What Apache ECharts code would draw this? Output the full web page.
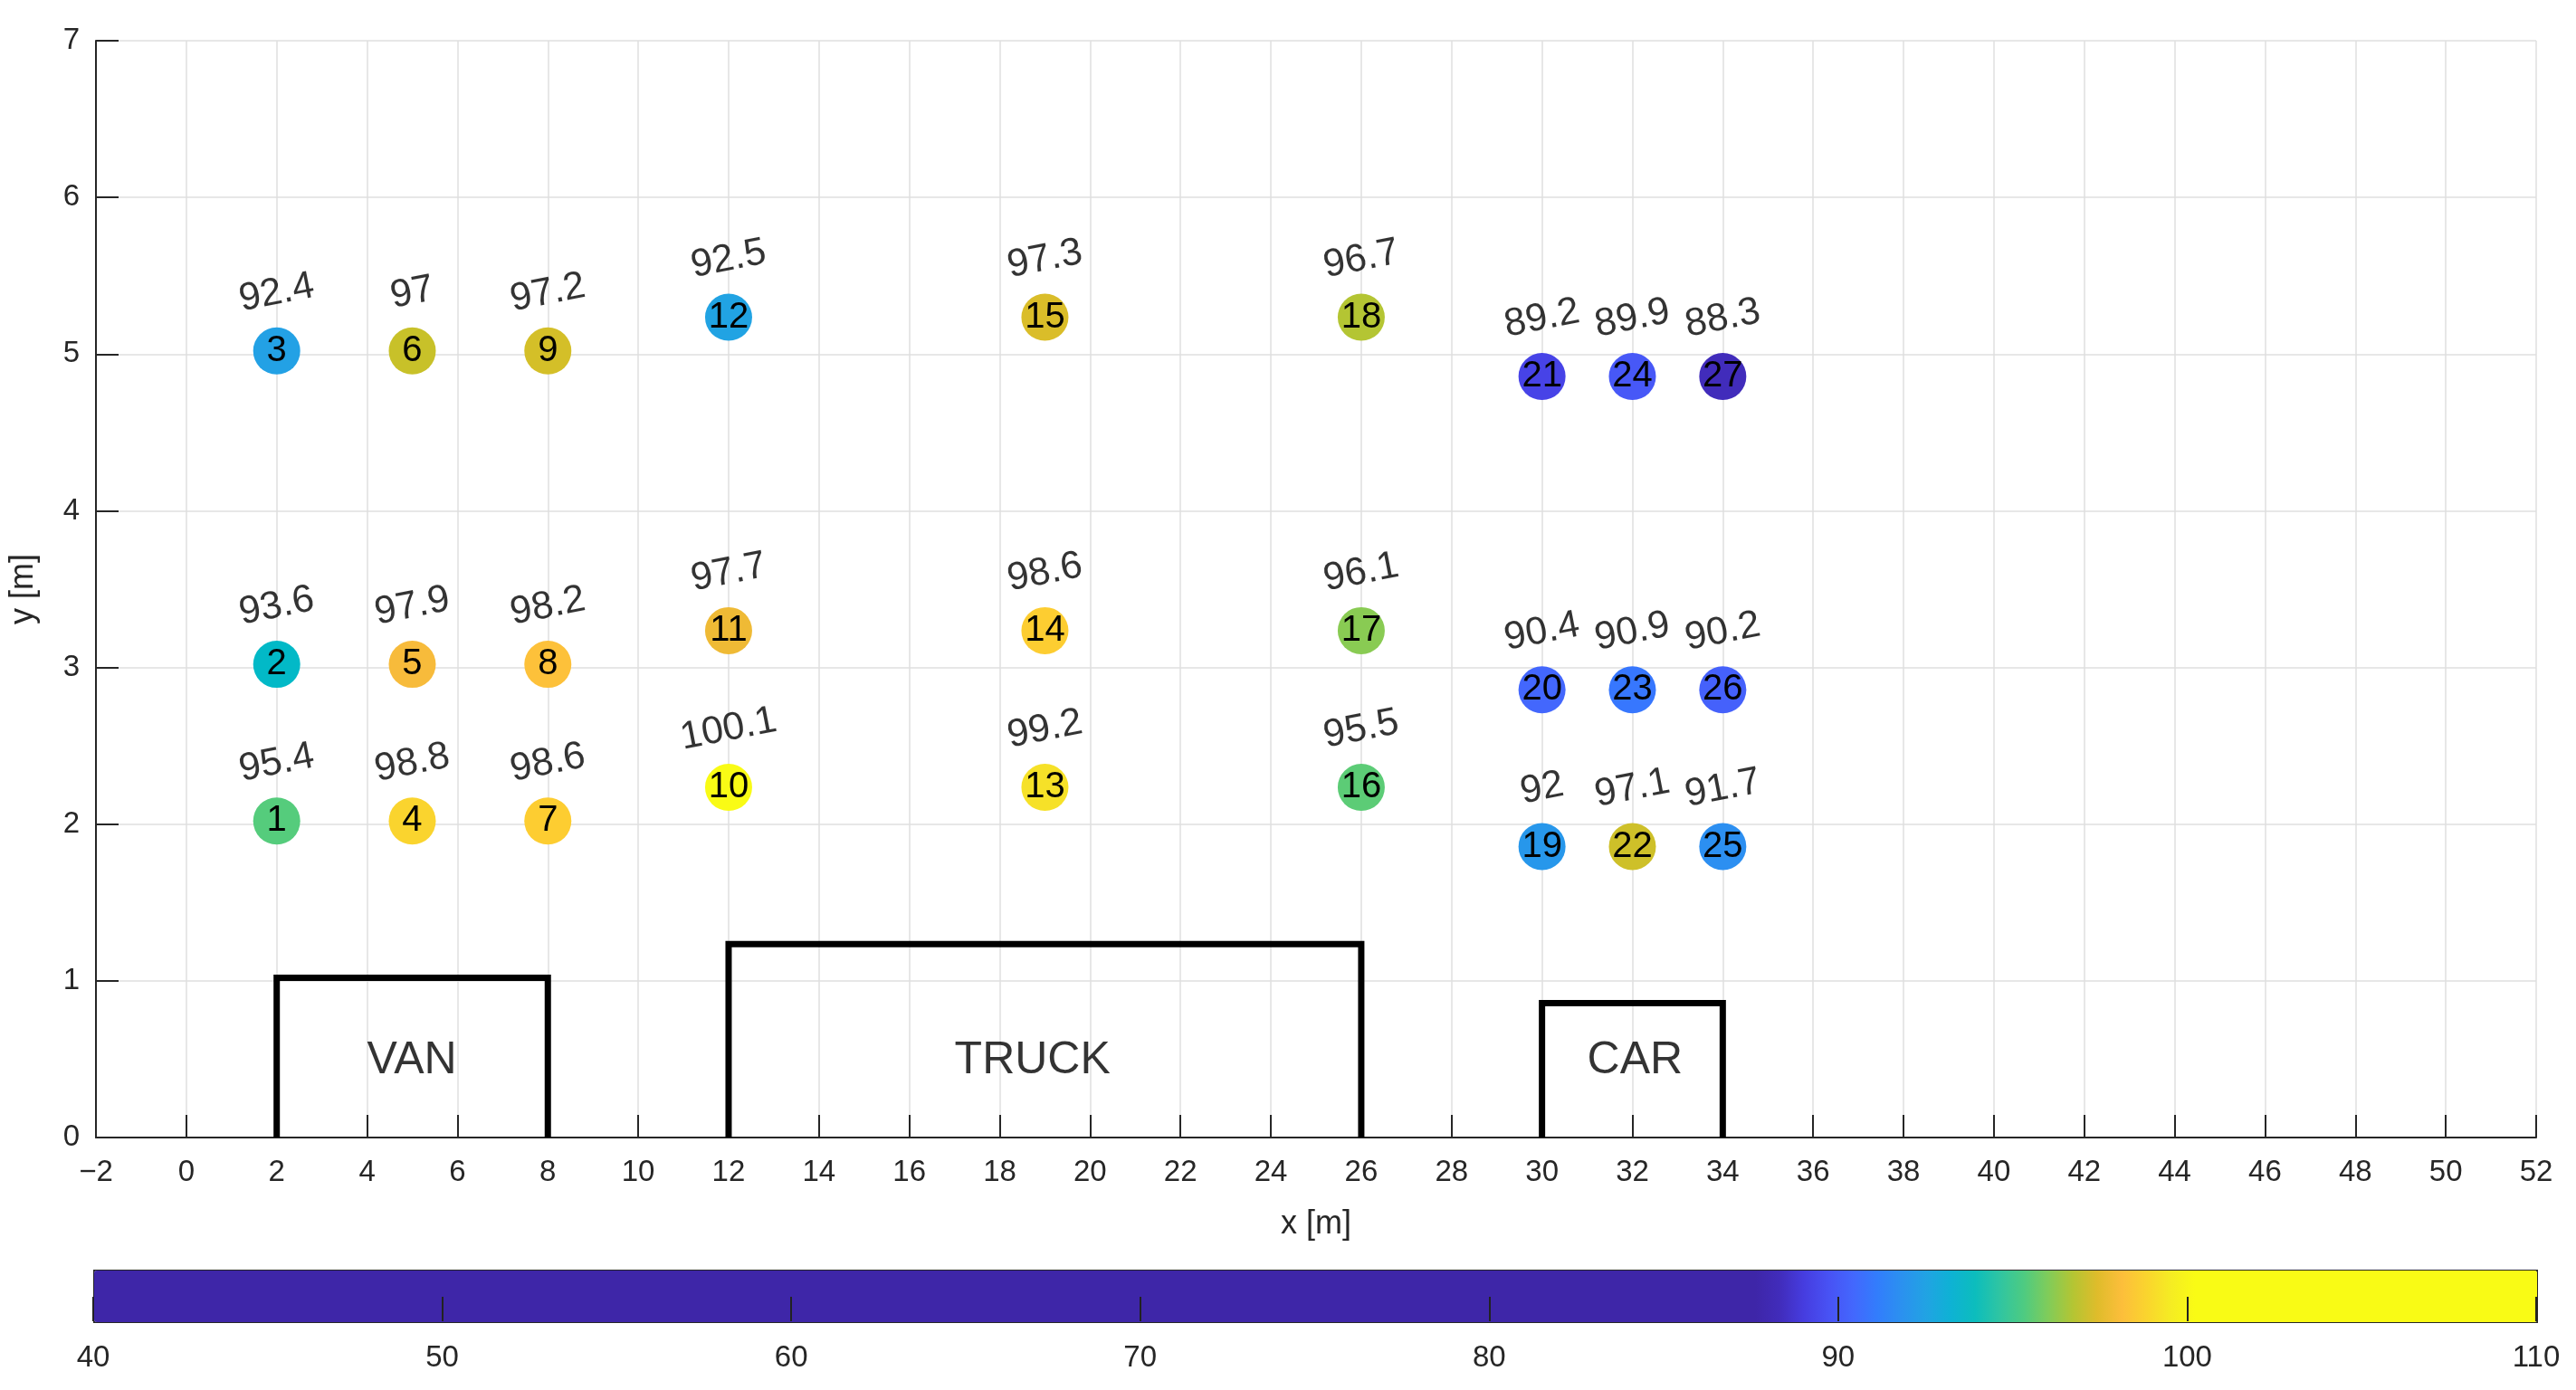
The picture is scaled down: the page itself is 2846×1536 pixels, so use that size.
<!DOCTYPE html>
<html><head><meta charset="utf-8">
<script src="https://cdn.jsdelivr.net/npm/echarts@6/dist/echarts.min.js"></script>
<style>html,body{margin:0;padding:0;background:#fff}#c{width:2846px;height:1536px}</style>
</head><body><div id="c"></div>
<script>
// ---- data ----
const pointIds = [1,2,3,4,5,6,7,8,9,10,11,12,13,14,15,16,17,18,19,20,21,22,23,24,25,26,27];
const pointX = [2,2,2,5,5,5,8,8,8,12,12,12,19,19,19,26,26,26,30,30,30,32,32,32,34,34,34];
const pointY = [2.02,3.02,5.02,2.02,3.02,5.02,2.02,3.02,5.02,
                2.235,3.235,5.235,2.235,3.235,5.235,2.235,3.235,5.235,
                1.857,2.857,4.857,1.857,2.857,4.857,1.857,2.857,4.857];
const pointValues = [95.4,93.6,92.4,98.8,97.9,97,98.6,98.2,97.2,
                     100.1,97.7,92.5,99.2,98.6,97.3,95.5,96.1,96.7,
                     92,90.4,89.2,97.1,90.9,89.9,91.7,90.2,88.3];
const vehicleNames = ['VAN','TRUCK','CAR'];
const vehicleStartX = [2,12,30];
const vehicleEndX = [8,26,34];
const vehicleHeight = [1.02,1.235,0.857];
const vehicleLabelX = [4,17,31];
const vehicleLabelY = [0.49,0.49,0.49];
const colorbarMin = 40, colorbarMax = 110, colorbarStep = 10;
const xMin = -2, xMax = 52, xStep = 2;
const yMin = 0, yMax = 7, yStep = 1;

// ---- colormap (parula stretched over 88..100, clamped) ----
const parula = [[0.2422,0.1504,0.6603],[0.2504,0.1650,0.7076],[0.2578,0.1818,0.7511],[0.2647,0.1978,0.7952],[0.2706,0.2147,0.8364],[0.2751,0.2342,0.8710],[0.2783,0.2559,0.8991],[0.2803,0.2782,0.9221],[0.2813,0.3006,0.9414],[0.2810,0.3228,0.9579],[0.2795,0.3447,0.9717],[0.2760,0.3667,0.9829],[0.2699,0.3892,0.9906],[0.2602,0.4123,0.9952],[0.2440,0.4358,0.9988],[0.2206,0.4603,0.9973],[0.1963,0.4847,0.9892],[0.1834,0.5074,0.9798],[0.1786,0.5289,0.9682],[0.1764,0.5499,0.9520],[0.1687,0.5703,0.9359],[0.1540,0.5902,0.9218],[0.1460,0.6091,0.9079],[0.1380,0.6276,0.8973],[0.1248,0.6459,0.8883],[0.1113,0.6635,0.8763],[0.0952,0.6798,0.8598],[0.0689,0.6948,0.8394],[0.0297,0.7082,0.8163],[0.0036,0.7203,0.7917],[0.0067,0.7312,0.7660],[0.0433,0.7411,0.7394],[0.0964,0.7500,0.7120],[0.1408,0.7584,0.6842],[0.1717,0.7670,0.6554],[0.1938,0.7758,0.6251],[0.2161,0.7843,0.5923],[0.2470,0.7918,0.5567],[0.2906,0.7973,0.5188],[0.3406,0.8008,0.4789],[0.3909,0.8029,0.4354],[0.4456,0.8024,0.3909],[0.5044,0.7993,0.3480],[0.5616,0.7942,0.3045],[0.6174,0.7876,0.2612],[0.6720,0.7793,0.2227],[0.7242,0.7698,0.1910],[0.7738,0.7598,0.1646],[0.8203,0.7498,0.1535],[0.8634,0.7406,0.1596],[0.9035,0.7330,0.1774],[0.9393,0.7288,0.2100],[0.9728,0.7298,0.2394],[0.9956,0.7434,0.2371],[0.9970,0.7659,0.2199],[0.9952,0.7893,0.2028],[0.9892,0.8136,0.1885],[0.9808,0.8386,0.1751],[0.9714,0.8646,0.1644],[0.9631,0.8905,0.1535],[0.9599,0.9167,0.1415],[0.9626,0.9423,0.1261],[0.9685,0.9661,0.1081],[0.9769,0.9839,0.0805]];
const cmapLow = 88, cmapHigh = 100;
function cmap(v){
  let t = (v - cmapLow) / (cmapHigh - cmapLow);
  t = Math.max(0, Math.min(1, t));
  const f = t * (parula.length - 1);
  const i = Math.min(parula.length - 2, Math.floor(f));
  const r = f - i;
  const c = [0,1,2].map(k => Math.round(255 * (parula[i][k] * (1 - r) + parula[i+1][k] * r)));
  return 'rgb(' + c.join(',') + ')';
}
const vmColors = [];
for (let v = colorbarMin; v <= colorbarMax + 1e-9; v += 0.25) vmColors.push(cmap(v));

// ---- layout ----
const W = 2846, H = 1536;
const plotL = 103, plotR = 2802, plotT = 45, plotB = 1257;
const cbT = 1403, cbH = 57;
const FONT = "'Liberation Sans', Arial, Helvetica, sans-serif";
const TXT = '#262626';
const labelAngle = 11, labelLift = 64;
const rad = labelAngle * Math.PI / 180;
const labelOffset = [labelLift * Math.sin(rad), -labelLift * Math.cos(rad)];

const pointData = pointIds.map((id, i) => [pointX[i], pointY[i], pointValues[i], id]);

const vehicleSeries = vehicleNames.map((name, i) => ({
  type: 'line', xAxisIndex: 0, yAxisIndex: 0, symbol: 'none', silent: true, z: 3,
  lineStyle: { color: '#000', width: 7, join: 'miter' },
  data: [[vehicleStartX[i], 0], [vehicleStartX[i], vehicleHeight[i]],
         [vehicleEndX[i], vehicleHeight[i]], [vehicleEndX[i], 0]]
}));

const fmtMinus = v => String(v).replace('-', '\u2212');

const option = {
  animation: false,
  backgroundColor: '#fff',
  textStyle: { fontFamily: FONT },
  grid: [
    { left: plotL, right: W - plotR, top: plotT, bottom: H - plotB, containLabel: false },
    { left: plotL, right: W - plotR, top: cbT, height: cbH, containLabel: false }
  ],
  xAxis: [
    { gridIndex: 0, type: 'value', min: xMin, max: xMax, interval: xStep,
      name: 'x [m]', nameLocation: 'middle', nameGap: 78,
      nameTextStyle: { fontSize: 36, color: TXT, fontFamily: FONT },
      axisLine: { show: true, onZero: false, lineStyle: { color: TXT, width: 2 } },
      axisTick: { show: true, inside: true, length: 25, lineStyle: { color: TXT, width: 2 } },
      axisLabel: { fontSize: 33, color: TXT, margin: 22, fontFamily: FONT, formatter: fmtMinus },
      splitLine: { show: true, lineStyle: { color: '#dfdfdf', width: 1.5 } } },
    { gridIndex: 1, type: 'value', min: colorbarMin, max: colorbarMax, interval: colorbarStep, z: 10,
      axisLine: { show: false },
      axisTick: { show: true, inside: true, length: 27, lineStyle: { color: '#222', width: 2 } },
      axisLabel: { fontSize: 33, color: TXT, margin: 24, fontFamily: FONT },
      splitLine: { show: false } }
  ],
  yAxis: [
    { gridIndex: 0, type: 'value', min: yMin, max: yMax, interval: yStep,
      name: 'y [m]', nameLocation: 'middle', nameGap: 62, nameRotate: 90,
      nameTextStyle: { fontSize: 36, color: TXT, fontFamily: FONT },
      axisLine: { show: true, onZero: false, lineStyle: { color: TXT, width: 2 } },
      axisTick: { show: true, inside: true, length: 25, lineStyle: { color: TXT, width: 2 } },
      axisLabel: { fontSize: 33, color: TXT, margin: 18, fontFamily: FONT },
      splitLine: { show: true, lineStyle: { color: '#dfdfdf', width: 1.5 } } },
    { gridIndex: 1, type: 'value', min: 0, max: 1, show: false }
  ],
  visualMap: {
    type: 'continuous', seriesIndex: 0, dimension: 2,
    min: colorbarMin, max: colorbarMax, calculable: false, orient: 'horizontal',
    left: plotL, top: cbT, itemWidth: cbH, itemHeight: plotR - plotL,
    padding: 0, borderColor: '#262626', borderWidth: 2, text: null,
    inRange: { color: vmColors }, hoverLink: false
  },
  series: [
    { type: 'scatter', xAxisIndex: 0, yAxisIndex: 0, z: 5, symbolSize: 52,
      itemStyle: { opacity: 1 },
      data: pointData,
      label: { show: true, position: 'inside', formatter: p => String(p.value[3]),
               fontSize: 40, color: '#000', fontFamily: FONT } },
    { type: 'scatter', xAxisIndex: 0, yAxisIndex: 0, z: 6, symbolSize: 1,
      itemStyle: { color: 'rgba(0,0,0,0)' },
      data: pointData,
      label: { show: true, position: 'inside', offset: labelOffset, rotate: labelAngle,
               formatter: p => String(p.value[2]),
               fontSize: 43, color: '#000', fontFamily: FONT } },
    ...vehicleSeries,
    { type: 'scatter', xAxisIndex: 0, yAxisIndex: 0, z: 6, symbolSize: 1,
      itemStyle: { color: 'rgba(0,0,0,0)' },
      data: vehicleNames.map((n, i) => [vehicleLabelX[i], vehicleLabelY[i], n]),
      label: { show: true, position: 'inside', align: 'left', verticalAlign: 'middle',
               formatter: p => p.value[2], fontSize: 50, color: '#000', fontFamily: FONT } }
  ]
};
const chart = echarts.init(document.getElementById('c'), null, { renderer: 'canvas', width: W, height: H });
chart.setOption(option);
</script></body></html>
